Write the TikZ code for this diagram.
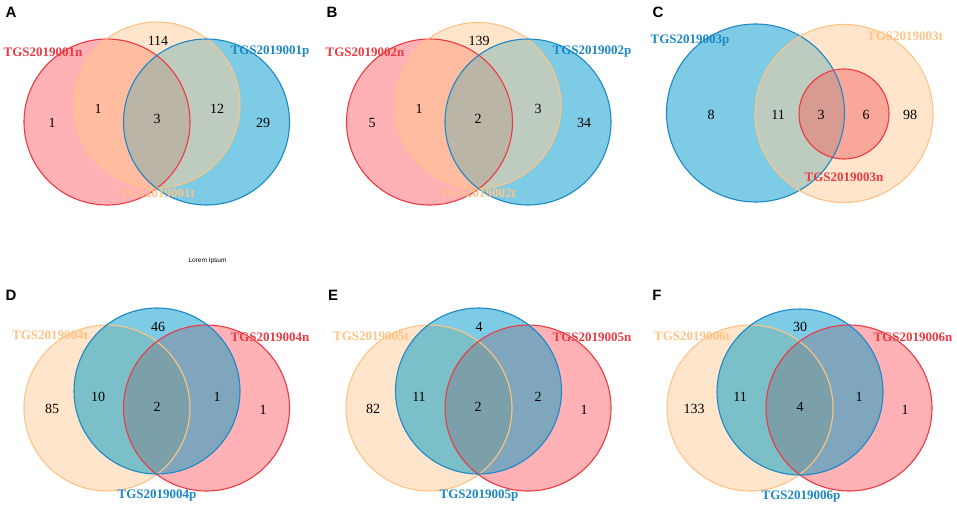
\documentclass[tikz,border=0pt]{standalone}
\usepackage{fontspec}
\setmainfont{Liberation Serif}
\newfontfamily\panelsans{Liberation Sans}
\definecolor{nF}{HTML}{FFB1B5}
\definecolor{tF}{HTML}{FFE5CB}
\definecolor{pF}{HTML}{7ECBE6}
\definecolor{ntF}{HTML}{FFBCA1}
\definecolor{tpF}{HTML}{BDCCBF}
\definecolor{nptF}{HTML}{BBB5A8}
\definecolor{ptDF}{HTML}{7BC0C9}
\definecolor{pnDF}{HTML}{80A6BE}
\definecolor{tpnDF}{HTML}{7CA0AA}
\definecolor{nCF}{HTML}{F9A69B}
\definecolor{pntCF}{HTML}{D89B92}
\definecolor{nS}{HTML}{EC3A40}
\definecolor{tS}{HTML}{FFC384}
\definecolor{pS}{HTML}{1C88C7}
\newcommand{\RR}{83pt}
\newcommand{\lensfill}[3]{\begin{scope}\clip (#1) circle[radius=\RR];\fill[#3] (#2) circle[radius=\RR];\end{scope}}
\newcommand{\trifill}[4]{\begin{scope}\clip (#1) circle[radius=\RR];\clip (#2) circle[radius=\RR];\fill[#4] (#3) circle[radius=\RR];\end{scope}}
\tikzset{
  x=1pt, y=-1pt,
  nline/.style={draw=nS, line width=1.1pt},
  tline/.style={draw=tS, line width=1.1pt},
  pline/.style={draw=pS, line width=1.1pt},
  setlab/.style={font=\fontsize{13}{14}\selectfont\bfseries, inner sep=0pt},
  nlab/.style={setlab, text=nS},
  tlab/.style={setlab, text=tS},
  plab/.style={setlab, text=pS},
  cnt/.style={font=\fontsize{14}{15}\selectfont, inner sep=0pt, text=black},
  panel/.style={font=\panelsans\fontsize{15}{16}\selectfont\bfseries, inner sep=0pt},
}
\begin{document}
\begin{tikzpicture}
\useasboundingbox[fill=white] (0,0) rectangle (957,508);
% ---------- Panel A ----------
\coordinate (An) at (107,122);
\coordinate (At) at (157,105);
\coordinate (Ap) at (206.5,122);
\fill[nF] (An) circle[radius=\RR];
\fill[tF] (At) circle[radius=\RR];
\fill[pF] (Ap) circle[radius=\RR];
\lensfill{An}{At}{ntF}
\lensfill{At}{Ap}{tpF}
\lensfill{An}{Ap}{nptF}
\trifill{An}{At}{Ap}{nptF}
\draw[nline] (An) circle[radius=\RR];
\draw[tline] (At) circle[radius=\RR];
\draw[pline] (Ap) circle[radius=\RR];
\node[panel] (Aletter) at (11,12) {A};
\node[nlab] (Anl) at (43,52) {TGS2019001n};
\node[plab] (Apl) at (270,52) {TGS2019001p};
\node[tlab] (Atl) at (157,193) {TGS2019001t};
\node[cnt] (Ac1) at (158,41) {114};
\node[cnt] (Ac2) at (52,123) {1};
\node[cnt] (Ac3) at (98,109) {1};
\node[cnt] (Ac4) at (157,119) {3};
\node[cnt] (Ac5) at (217,109) {12};
\node[cnt] (Ac6) at (263,123) {29};
% ---------- Panel B ----------
\coordinate (Bn) at (429.5,122);
\coordinate (Bt) at (478,105.5);
\coordinate (Bp) at (528,122);
\fill[nF] (Bn) circle[radius=\RR];
\fill[tF] (Bt) circle[radius=\RR];
\fill[pF] (Bp) circle[radius=\RR];
\lensfill{Bn}{Bt}{ntF}
\lensfill{Bt}{Bp}{tpF}
\lensfill{Bn}{Bp}{nptF}
\trifill{Bn}{Bt}{Bp}{nptF}
\draw[nline] (Bn) circle[radius=\RR];
\draw[tline] (Bt) circle[radius=\RR];
\draw[pline] (Bp) circle[radius=\RR];
\node[panel] (Bletter) at (332,12) {B};
\node[nlab] (Bnl) at (365,52) {TGS2019002n};
\node[plab] (Bpl) at (592,52) {TGS2019002p};
\node[tlab] (Btl) at (478,193) {TGS2019002t};
\node[cnt] (Bc1) at (479,41) {139};
\node[cnt] (Bc2) at (372,123) {5};
\node[cnt] (Bc3) at (419,109) {1};
\node[cnt] (Bc4) at (478,119) {2};
\node[cnt] (Bc5) at (538,109) {3};
\node[cnt] (Bc6) at (584,123) {34};
% ---------- Panel C ----------
\coordinate (Cp) at (755.5,113);
\coordinate (Ct) at (844,113.5);
\coordinate (Cn) at (844,114);
\fill[pF] (Cp) circle[radius=89pt];
\fill[tF] (Ct) circle[radius=89pt];
\begin{scope}\clip (Cp) circle[radius=89pt];\fill[tpF] (Ct) circle[radius=89pt];\end{scope}
\fill[nCF] (Cn) circle[radius=45pt];
\begin{scope}\clip (Cp) circle[radius=89pt];\fill[pntCF] (Cn) circle[radius=45pt];\end{scope}
\draw[pline] (Cp) circle[radius=89pt];
\draw[tline] (Ct) circle[radius=89pt];
\draw[nline] (Cn) circle[radius=45pt];
\node[panel] (Cletter) at (658,12) {C};
\node[plab] (Cpl) at (690,41) {TGS2019003p};
\node[tlab] (Ctl) at (905,36) {TGS2019003t};
\node[nlab] (Cnl) at (844,177) {TGS2019003n};
\node[cnt] (Cc1) at (711,115) {8};
\node[cnt] (Cc2) at (778,115) {11};
\node[cnt] (Cc3) at (821,115) {3};
\node[cnt] (Cc4) at (866,115) {6};
\node[cnt] (Cc5) at (910,115) {98};
% ---------- Lorem Ipsum ----------
\node[font=\panelsans\fontsize{6.5}{7}\selectfont, inner sep=0pt] (lorem) at (207.5,261) {Lorem Ipsum};
% ---------- Panel D ----------
\coordinate (Dt) at (107,408);
\coordinate (Dp) at (157,391);
\coordinate (Dn) at (206.5,408);
\fill[tF] (Dt) circle[radius=\RR];
\fill[nF] (Dn) circle[radius=\RR];
\fill[pF] (Dp) circle[radius=\RR];
\lensfill{Dp}{Dt}{ptDF}
\lensfill{Dp}{Dn}{pnDF}
\lensfill{Dt}{Dn}{tpnDF}
\trifill{Dt}{Dn}{Dp}{tpnDF}
\draw[tline] (Dt) circle[radius=\RR];
\draw[nline] (Dn) circle[radius=\RR];
\draw[pline] (Dp) circle[radius=\RR];
\node[panel] (Dletter) at (11,295) {D};
\node[tlab] (Dtl) at (50,335) {TGS2019004t};
\node[nlab] (Dnl) at (270,337) {TGS2019004n};
\node[plab] (Dpl) at (157,496) {TGS2019004p};
\node[cnt] (Dc1) at (158,327) {46};
\node[cnt] (Dc2) at (52,409) {85};
\node[cnt] (Dc3) at (98,397) {10};
\node[cnt] (Dc4) at (157,407) {2};
\node[cnt] (Dc5) at (217,397) {1};
\node[cnt] (Dc6) at (263,410) {1};
% ---------- Panel E ----------
\coordinate (Et) at (429,408);
\coordinate (Ep) at (478.5,391);
\coordinate (En) at (528,408);
\fill[tF] (Et) circle[radius=\RR];
\fill[nF] (En) circle[radius=\RR];
\fill[pF] (Ep) circle[radius=\RR];
\lensfill{Ep}{Et}{ptDF}
\lensfill{Ep}{En}{pnDF}
\lensfill{Et}{En}{tpnDF}
\trifill{Et}{En}{Ep}{tpnDF}
\draw[tline] (Et) circle[radius=\RR];
\draw[nline] (En) circle[radius=\RR];
\draw[pline] (Ep) circle[radius=\RR];
\node[panel] (Eletter) at (333,295) {E};
\node[tlab] (Etl) at (371,336) {TGS2019005t};
\node[nlab] (Enl) at (592,337) {TGS2019005n};
\node[plab] (Epl) at (479,496) {TGS2019005p};
\node[cnt] (Ec1) at (479,327) {4};
\node[cnt] (Ec2) at (373,409) {82};
\node[cnt] (Ec3) at (419,397) {11};
\node[cnt] (Ec4) at (478,407) {2};
\node[cnt] (Ec5) at (538,397) {2};
\node[cnt] (Ec6) at (584,410) {1};
% ---------- Panel F ----------
\coordinate (Ft) at (750,408);
\coordinate (Fp) at (800,392);
\coordinate (Fn) at (849,408);
\fill[tF] (Ft) circle[radius=\RR];
\fill[nF] (Fn) circle[radius=\RR];
\fill[pF] (Fp) circle[radius=\RR];
\lensfill{Fp}{Ft}{ptDF}
\lensfill{Fp}{Fn}{pnDF}
\lensfill{Ft}{Fn}{tpnDF}
\trifill{Ft}{Fn}{Fp}{tpnDF}
\draw[tline] (Ft) circle[radius=\RR];
\draw[nline] (Fn) circle[radius=\RR];
\draw[pline] (Fp) circle[radius=\RR];
\node[panel] (Fletter) at (657,295) {F};
\node[tlab] (Ftl) at (692,336) {TGS2019006t};
\node[nlab] (Fnl) at (913,337) {TGS2019006n};
\node[plab] (Fpl) at (801,497) {TGS2019006p};
\node[cnt] (Fc1) at (800,327) {30};
\node[cnt] (Fc2) at (694,409) {133};
\node[cnt] (Fc3) at (740,397) {11};
\node[cnt] (Fc4) at (800,407) {4};
\node[cnt] (Fc5) at (859,397) {1};
\node[cnt] (Fc6) at (905,410) {1};
\end{tikzpicture}
\end{document}
